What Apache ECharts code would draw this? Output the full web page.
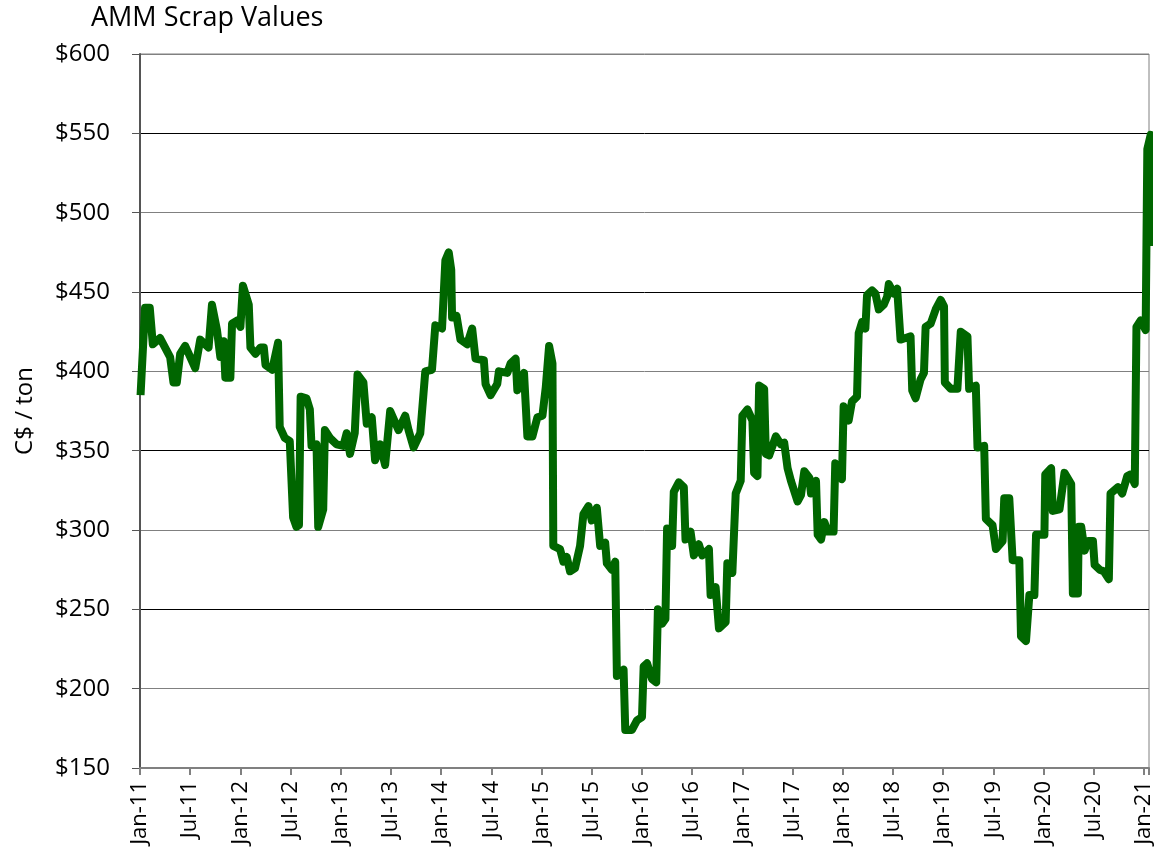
<!DOCTYPE html>
<html>
<head>
<meta charset="utf-8">
<title>AMM Scrap Values</title>
<script src="https://cdn.jsdelivr.net/npm/echarts@6/dist/echarts.min.js"></script>
<style>
  html, body { margin: 0; padding: 0; background: #fff; }
  #chart { width: 1158px; height: 859px; }
</style>
</head>
<body>
<div id="chart"></div>
<script>
// weekly-ish readings, C$ per ton
const dates = [
  "2011-01-03","2011-01-19","2011-02-06","2011-02-17","2011-03-13","2011-04-19","2011-05-01","2011-05-13",
  "2011-05-25","2011-06-13","2011-07-19","2011-08-07","2011-09-07","2011-09-19","2011-10-07","2011-10-19",
  "2011-11-01","2011-11-07","2011-11-25","2011-12-01","2011-12-19","2012-01-01","2012-01-10","2012-02-01",
  "2012-02-07","2012-02-25","2012-03-13","2012-03-25","2012-04-01","2012-04-25","2012-05-16","2012-05-22",
  "2012-06-10","2012-06-28","2012-07-10","2012-07-22","2012-08-01","2012-08-07","2012-08-28","2012-09-10",
  "2012-09-16","2012-10-04","2012-10-10","2012-10-28","2012-11-04","2012-11-22","2012-12-16","2013-01-10",
  "2013-01-22","2013-02-04","2013-02-21","2013-03-01","2013-03-22","2013-04-04","2013-04-22","2013-05-04",
  "2013-05-22","2013-06-10","2013-06-28","2013-07-28","2013-08-22","2013-09-04","2013-09-22","2013-10-16",
  "2013-11-04","2013-11-28","2013-12-10","2014-01-04","2014-01-16","2014-01-28","2014-02-07","2014-02-10",
  "2014-02-26","2014-03-10","2014-04-04","2014-04-22","2014-05-04","2014-06-04","2014-06-10","2014-06-28",
  "2014-07-22","2014-07-28","2014-08-28","2014-09-10","2014-09-28","2014-10-04","2014-10-28","2014-11-10",
  "2014-11-28","2014-12-16","2015-01-04","2015-01-16","2015-01-28","2015-02-10","2015-02-13","2015-03-07",
  "2015-03-19","2015-04-01","2015-04-13","2015-05-01","2015-05-19","2015-06-01","2015-06-19","2015-07-01",
  "2015-07-19","2015-08-01","2015-08-19","2015-08-25","2015-09-13","2015-09-25","2015-10-01","2015-10-25",
  "2015-11-01","2015-11-25","2015-12-13","2016-01-01","2016-01-07","2016-01-19","2016-02-07","2016-02-22",
  "2016-02-28","2016-03-13","2016-03-25","2016-04-01","2016-04-19","2016-04-25","2016-05-13","2016-06-01",
  "2016-06-07","2016-06-25","2016-07-07","2016-07-25","2016-08-07","2016-09-01","2016-09-07","2016-09-25",
  "2016-10-07","2016-11-01","2016-11-07","2016-11-25","2016-12-07","2016-12-25","2017-01-01","2017-01-19",
  "2017-02-07","2017-02-13","2017-02-25","2017-03-01","2017-03-19","2017-03-25","2017-04-07","2017-05-01",
  "2017-05-19","2017-06-01","2017-06-13","2017-06-25","2017-07-19","2017-08-01","2017-08-13","2017-09-01",
  "2017-09-07","2017-09-25","2017-10-01","2017-10-13","2017-10-25","2017-11-07","2017-11-28","2017-12-04",
  "2017-12-28","2018-01-04","2018-01-22","2018-02-04","2018-02-22","2018-02-28","2018-03-10","2018-03-22",
  "2018-03-28","2018-04-16","2018-04-28","2018-05-10","2018-05-28","2018-06-10","2018-06-16","2018-07-04",
  "2018-07-16","2018-07-28","2018-08-16","2018-09-04","2018-09-10","2018-09-22","2018-10-10","2018-10-22",
  "2018-10-28","2018-11-16","2018-12-04","2018-12-22","2019-01-04","2019-01-07","2019-01-28","2019-02-22",
  "2019-03-04","2019-03-28","2019-04-04","2019-04-28","2019-05-04","2019-05-28","2019-06-04","2019-06-28",
  "2019-07-10","2019-08-04","2019-08-10","2019-08-28","2019-09-10","2019-10-04","2019-10-10","2019-10-28",
  "2019-11-10","2019-11-28","2019-12-04","2020-01-04","2020-01-07","2020-01-28","2020-02-04","2020-02-28",
  "2020-03-16","2020-04-10","2020-04-16","2020-05-04","2020-05-07","2020-05-16","2020-05-28","2020-06-10",
  "2020-06-28","2020-07-04","2020-07-22","2020-08-07","2020-08-25","2020-09-01","2020-09-28","2020-10-13",
  "2020-11-01","2020-11-13","2020-11-28","2020-12-04","2020-12-19","2021-01-07","2021-01-13","2021-01-25",
  "2021-02-07"
];
const prices = [
  385,440,440,417,421,409,393,393,
  411,416,402,420,415,442,426,409,
  419,396,396,430,432,428,454,442,
  415,411,415,415,404,401,418,365,
  358,356,308,302,303,384,383,376,
  353,354,302,313,363,358,354,353,
  361,348,361,398,393,367,371,344,
  354,341,375,363,372,363,352,361,
  400,401,429,427,470,475,464,434,
  435,420,417,427,408,407,392,385,
  392,400,399,405,408,388,399,359,
  359,371,372,390,416,405,290,288,
  280,283,274,276,290,310,315,306,
  314,290,292,279,275,280,208,212,
  174,174,180,182,214,216,206,204,
  250,241,244,301,290,324,330,327,
  294,299,284,291,284,288,259,264,
  238,242,279,273,323,331,372,376,
  369,336,334,391,389,348,347,359,
  354,355,339,331,318,322,337,333,
  323,331,297,294,305,299,299,342,
  332,378,369,381,384,424,431,427,
  448,451,449,439,442,447,455,449,
  452,420,421,422,388,383,395,399,
  428,430,439,445,441,393,389,389,
  425,422,389,391,352,353,307,303,
  288,293,320,320,281,281,233,230,
  259,259,297,297,335,339,312,313,
  336,329,260,260,302,302,287,293,
  293,278,275,274,269,323,327,323,
  334,335,329,428,432,426,540,549,
  479
];
const yTicks = [150, 200, 250, 300, 350, 400, 450, 500, 550, 600];

// months since Jan 2011
function toMonth(s) {
  var p = s.split("-").map(Number);
  return (p[0] - 2011) * 12 + (p[1] - 1) + (p[2] - 1) / 30;
}

var chart = echarts.init(document.getElementById("chart"));
var font = "'Open Sans', 'Noto Sans', sans-serif";

chart.setOption({
  animation: false,
  textStyle: { fontFamily: font },
  title: {
    text: "AMM Scrap Values",
    left: 86,
    top: 0,
    textStyle: { fontFamily: font, fontSize: 27, fontWeight: "normal", color: "#000" }
  },
  grid: {
    left: 140,
    right: 9,
    top: 54,
    bottom: 91,
    show: true,
    borderColor: "#808080",
    borderWidth: 1
  },
  xAxis: {
    type: "value",
    min: 0,
    max: 120.6,
    interval: 6,
    axisLine: { lineStyle: { color: "#808080", width: 2 } },
    axisTick: { length: 7, lineStyle: { color: "#808080", width: 2 } },
    splitLine: { show: false },
    axisLabel: {
      rotate: 90,
      margin: 13,
      fontSize: 22,
      color: "#000",
      fontFamily: font,
      formatter: function (v) {
        if (v % 6 !== 0) return "";
        var yr = 11 + Math.floor(v / 12);
        return (v % 12 === 0 ? "Jan-" : "Jul-") + yr;
      }
    }
  },
  yAxis: {
    type: "value",
    min: yTicks[0],
    max: yTicks[yTicks.length - 1],
    interval: 50,
    name: "C$ / ton",
    nameLocation: "middle",
    nameGap: 103,
    nameTextStyle: { fontSize: 24, color: "#000", fontFamily: font },
    axisLine: { show: true, lineStyle: { color: "#555", width: 2 } },
    axisTick: { show: true, length: 8, lineStyle: { color: "#555" } },
    axisLabel: {
      fontSize: 24,
      color: "#000",
      margin: 30,
      fontFamily: font,
      formatter: function (v) { return "$" + v; }
    },
    splitLine: { lineStyle: { color: ["#000", "#808080"], width: 1 } }
  },
  series: [
    {
      type: "line",
      showSymbol: false,
      clip: false,
      data: dates.map(function (d, i) { return [toMonth(d), prices[i]]; }),
      lineStyle: { color: "#006600", width: 8, join: "round" },
      itemStyle: { color: "#006600" }
    }
  ]
});
</script>
</body>
</html>
